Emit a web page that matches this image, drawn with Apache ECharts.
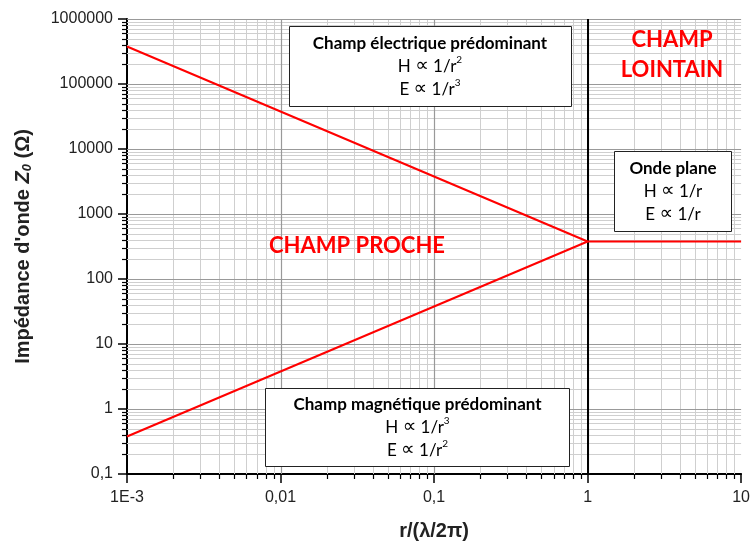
<!DOCTYPE html>
<html>
<head>
<meta charset="utf-8">
<script src="https://cdn.jsdelivr.net/npm/echarts@6/dist/echarts.min.js"></script>
<style>html,body{margin:0;padding:0;background:#fff}#c{width:753px;height:547px}</style>
</head>
<body>
<div id="c"></div>
<script>
// ---- data ----
const xDecades = [0.001, 0.01, 0.1, 1, 10];
const xTickLabels = ['1E-3', '0,01', '0,1', '1', '10'];
const yDecades = [0.1, 1, 10, 100, 1000, 10000, 100000, 1000000];
const yTickLabels = ['0,1', '1', '10', '100', '1000', '10000', '100000', '1000000'];
const minorMultipliers = [2, 3, 4, 5, 6, 7, 8, 9];
const electricR = [0.001, 1, 10];
const electricZ = [377000, 377, 377];
const magneticR = [0.001, 1];
const magneticZ = [0.377, 377];
const boundaryR = 1;

const X_MIN = xDecades[0], X_MAX = xDecades[xDecades.length - 1];
const Y_MIN = yDecades[0], Y_MAX = yDecades[yDecades.length - 1];

function labelFor(values, labels) {
  return function (v) {
    for (let i = 0; i < values.length; i++) {
      if (Math.abs(Math.log10(v) - Math.log10(values[i])) < 1e-6) return labels[i];
    }
    return '';
  };
}

const minorX = [], minorY = [];
for (let i = 0; i < xDecades.length - 1; i++) minorMultipliers.forEach(m => minorX.push(xDecades[i] * m));
for (let i = 0; i < yDecades.length - 1; i++) minorMultipliers.forEach(m => minorY.push(yDecades[i] * m));

const chart = echarts.init(document.getElementById('c'), null, { renderer: 'canvas' });

function crisp(v) { return Math.round(v) + 0.5; }

const boxRich = {
  t: { fontFamily: 'Lato', fontWeight: 'bold', fontSize: 17, color: '#111', lineHeight: 23 },
  n: { fontFamily: 'Lato', fontSize: 17, color: '#222', lineHeight: 23 },
  p: { fontFamily: 'DejaVu Sans', fontSize: 19, color: '#222', lineHeight: 23 },
  s: { fontFamily: 'Lato', fontSize: 10, color: '#222', verticalAlign: 'top', lineHeight: 23, padding: [0, 0, 3, 0] }
};

const option = {
  animation: false,
  backgroundColor: '#fff',
  grid: { left: 127, right: 10, top: 19, bottom: 73, containLabel: false },
  xAxis: {
    type: 'log', logBase: 10, min: X_MIN, max: X_MAX,
    name: 'r/(λ/2π)', nameLocation: 'middle', nameGap: 47,
    nameTextStyle: { fontFamily: 'Liberation Sans', fontWeight: 'bold', fontSize: 20, color: '#222' },
    axisLine: { show: true, onZero: false, lineStyle: { color: '#000', width: 2 } },
    axisTick: { show: true, length: 9, lineStyle: { color: '#000', width: 1.5 } },
    axisLabel: { formatter: labelFor(xDecades, xTickLabels), fontFamily: 'Liberation Sans', fontSize: 16, color: '#222', margin: 16, showMinLabel: true, showMaxLabel: true },
    splitLine: { show: false }
  },
  yAxis: {
    type: 'log', logBase: 10, min: Y_MIN, max: Y_MAX,
    name: '{b|Impédance d\'onde }{z|Z}{s|0}{b| (Ω)}', nameLocation: 'middle', nameGap: 93, nameRotate: 90,
    nameTextStyle: {
      rich: {
        b: { fontFamily: 'Liberation Sans', fontWeight: 'bold', fontSize: 20, color: '#222' },
        z: { fontFamily: 'Liberation Sans', fontWeight: 'bold', fontStyle: 'italic', fontSize: 20, color: '#222' },
        s: { fontFamily: 'Liberation Sans', fontWeight: 'bold', fontStyle: 'italic', fontSize: 13, color: '#222', verticalAlign: 'bottom', padding: [9, 0, 0, 0] }
      }
    },
    axisLine: { show: true, onZero: false, lineStyle: { color: '#000', width: 2 } },
    axisTick: { show: true, length: 9, lineStyle: { color: '#000', width: 1.5 } },
    axisLabel: { formatter: labelFor(yDecades, yTickLabels), fontFamily: 'Liberation Sans', fontSize: 16, color: '#222', margin: 14 },
    splitLine: { show: false }
  },
  series: [
    {
      type: 'custom', silent: true, z: 1, clip: false,
      data: [[1, 1]],
      renderItem: function (params, api) {
        const children = [];
        const tl = api.coord([X_MIN, Y_MAX]);
        const br = api.coord([X_MAX, Y_MIN]);
        minorX.forEach(v => {
          const x = crisp(api.coord([v, Y_MIN])[0]);
          children.push({ type: 'line', shape: { x1: x, y1: tl[1], x2: x, y2: br[1] }, style: { stroke: '#cfcfcf', lineWidth: 1 } });
          children.push({ type: 'line', shape: { x1: x, y1: br[1], x2: x, y2: br[1] + 5 }, style: { stroke: '#000', lineWidth: 1.2 } });
        });
        minorY.forEach(v => {
          const y = crisp(api.coord([X_MIN, v])[1]);
          children.push({ type: 'line', shape: { x1: tl[0], y1: y, x2: br[0], y2: y }, style: { stroke: '#cfcfcf', lineWidth: 1 } });
          children.push({ type: 'line', shape: { x1: tl[0] - 5, y1: y, x2: tl[0], y2: y }, style: { stroke: '#000', lineWidth: 1.2 } });
        });
        xDecades.slice(1, -1).forEach(v => {
          const x = crisp(api.coord([v, Y_MIN])[0]);
          children.push({ type: 'line', shape: { x1: x, y1: tl[1], x2: x, y2: br[1] }, style: { stroke: '#999999', lineWidth: 1.2 } });
        });
        yDecades.slice(1).forEach(v => {
          const y = crisp(api.coord([X_MIN, v])[1]);
          children.push({ type: 'line', shape: { x1: tl[0], y1: y, x2: br[0], y2: y }, style: { stroke: '#999999', lineWidth: 1.2 } });
        });
        return { type: 'group', children: children };
      }
    },
    {
      type: 'line', z: 5, symbol: 'none', silent: true,
      data: electricR.map((r, i) => [r, electricZ[i]]),
      lineStyle: { color: '#ff0000', width: 2 },
      markLine: {
        silent: true, symbol: 'none', label: { show: false },
        lineStyle: { color: '#000', width: 2, type: 'solid' },
        data: [{ xAxis: boundaryR }]
      }
    },
    {
      type: 'line', z: 5, symbol: 'none', silent: true,
      data: magneticR.map((r, i) => [r, magneticZ[i]]),
      lineStyle: { color: '#ff0000', width: 2 }
    }
  ],
  graphic: [
    { type: 'text', x: 357, y: 246, z: 20, style: { text: 'CHAMP PROCHE', fill: '#ff0000', font: 'bold 22px Lato', align: 'center', verticalAlign: 'middle' } },
    { type: 'text', x: 672, y: 55, z: 20, style: { text: 'CHAMP\nLOINTAIN', fill: '#ff0000', font: 'bold 22px Lato', align: 'center', verticalAlign: 'middle', lineHeight: 30 } },
    // Electric field box
    { type: 'rect', shape: { x: 289.5, y: 26.5, width: 282, height: 80 }, z: 20, style: { fill: '#fff', stroke: '#222', lineWidth: 1 } },
    { type: 'text', x: 430, y: 66.5, z: 21, style: {
        text: '{t|Champ électrique prédominant}\n{n|H }{p|∝}{n| 1/r}{s|2}\n{n|E }{p|∝}{n| 1/r}{s|3}', align: 'center', verticalAlign: 'middle',
        rich: boxRich } },
    // Plane wave box
    { type: 'rect', shape: { x: 614.5, y: 151.5, width: 117, height: 80 }, z: 20, style: { fill: '#fff', stroke: '#222', lineWidth: 1 } },
    { type: 'text', x: 673, y: 191.5, z: 21, style: {
        text: '{t|Onde plane}\n{n|H }{p|∝}{n| 1/r}\n{n|E }{p|∝}{n| 1/r}', align: 'center', verticalAlign: 'middle',
        rich: boxRich } },
    // Magnetic field box
    { type: 'rect', shape: { x: 265.5, y: 388.5, width: 304, height: 78 }, z: 20, style: { fill: '#fff', stroke: '#222', lineWidth: 1 } },
    { type: 'text', x: 417.5, y: 427.5, z: 21, style: {
        text: '{t|Champ magnétique prédominant}\n{n|H }{p|∝}{n| 1/r}{s|3}\n{n|E }{p|∝}{n| 1/r}{s|2}', align: 'center', verticalAlign: 'middle',
        rich: boxRich } }
  ]
};
chart.setOption(option);
</script>
</body>
</html>
